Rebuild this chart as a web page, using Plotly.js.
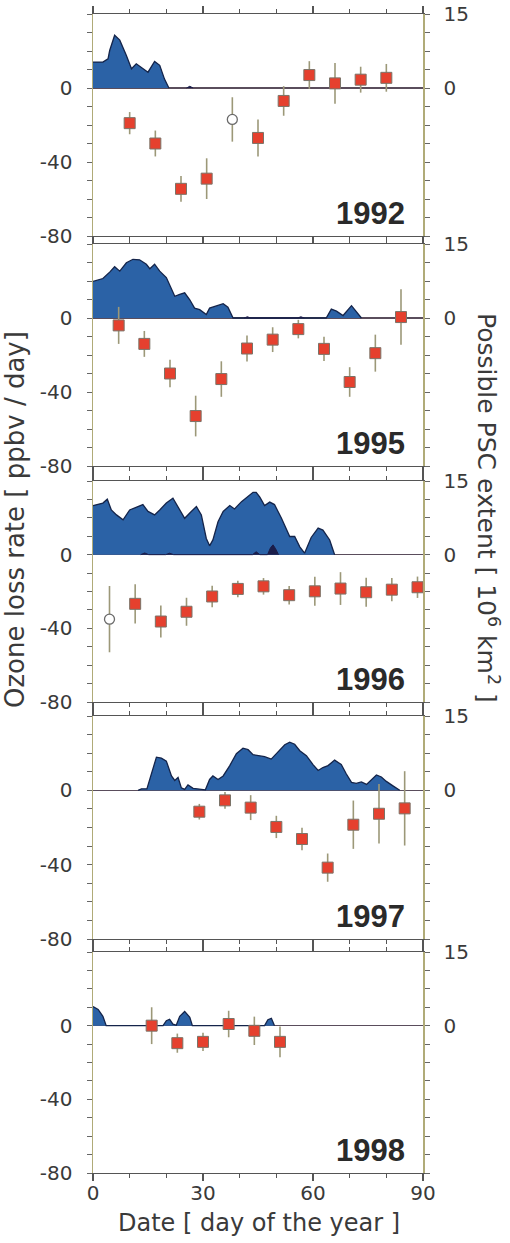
<!DOCTYPE html>
<html>
<head>
<meta charset="utf-8">
<script src="https://cdn.plot.ly/plotly-3.0.1.min.js"></script>
<style>html,body{margin:0;padding:0;background:#fff;}#chart{width:510px;height:1243px;}</style>
</head>
<body>
<div id="chart"></div>
<script>
// ---------- data ----------
const years = ["1992", "1995", "1996", "1997", "1998"];

// ozone loss rate [ppbv/day]: day, value, error, open-marker flags
const day1992 = [10, 17, 24, 31, 38, 45, 52, 59, 66, 73, 80];
const rate1992 = [-19, -30, -54.5, -49, -17, -27, -7, 7, 2.5, 4.5, 5.5];
const err1992 = [6, 7, 7, 11, 12, 10, 8, 7.5, 11, 7, 7.5];
const open1992 = [0, 0, 0, 0, 1, 0, 0, 0, 0, 0, 0];

const day1995 = [7, 14, 21, 28, 35, 42, 49, 56, 63, 70, 77, 84];
const rate1995 = [-4, -14, -30, -53, -33, -16.5, -11.7, -6, -16.7, -34.6, -19, 0.5];
const err1995 = [10, 7, 7.4, 11, 9.6, 7, 6.7, 5, 6.5, 8, 10, 15];
const open1995 = [0, 0, 0, 0, 0, 0, 0, 0, 0, 0, 0, 0];

const day1996 = [4.5, 11.5, 18.5, 25.5, 32.5, 39.5, 46.5, 53.5, 60.5, 67.5, 74.5, 81.5, 88.5];
const rate1996 = [-35, -26.7, -36.3, -31, -22.7, -18.6, -17.2, -22, -19.9, -18.4, -20.4, -19, -17.7];
const err1996 = [18, 10.7, 8.7, 7.6, 5.8, 4.5, 4.5, 5, 7.9, 8.9, 7.9, 6.3, 5.8];
const open1996 = [1, 0, 0, 0, 0, 0, 0, 0, 0, 0, 0, 0, 0];

const day1997 = [29, 36, 43, 50, 57, 64, 71, 78, 85];
const rate1997 = [-11.5, -5.4, -9.3, -19.7, -26.2, -41.6, -18.5, -12.6, -9.7];
const err1997 = [4.2, 4.5, 6.7, 6, 6, 7.6, 13, 16, 20];
const open1997 = [0, 0, 0, 0, 0, 0, 0, 0, 0];

const day1998 = [16, 23, 30, 37, 44, 51];
const rate1998 = [0, -9.5, -8.8, 0.9, -2.8, -8.8];
const err1998 = [10, 5.2, 5, 7.2, 7.7, 8.3];
const open1998 = [0, 0, 0, 0, 0, 0];

// possible PSC extent [10^6 km^2]
const pscDay1992 = [0, 2.7, 4.1, 4.55, 5.9, 7.3, 9.1, 10.5, 11.8, 13.2, 15, 16.8, 18.2, 19.5, 20.7];
const pscVal1992 = [5.25, 5.25, 5.9, 7.6, 10.7, 9.7, 6.6, 3.9, 4.9, 4.2, 3.2, 5.4, 4.6, 1.8, 0];

const pscDay1995 = [0, 2.7, 4.55, 5.9, 7.3, 9.1, 10.9, 12.7, 14.55, 15.5, 16.8, 18.2, 20, 22.3, 23.65, 25, 26.4, 27.7, 29.1, 30.9, 31.8, 33.65, 35.5, 36.8, 38.2,
  63.6, 65, 66.4, 68.2, 70.5, 71.8, 73.2];
const pscVal1995 = [7.4, 8.0, 9.3, 10.4, 9.5, 11.2, 11.9, 11.8, 10.9, 10.0, 10.9, 9.5, 8.2, 4.4, 4.8, 5.1, 3.7, 2.0, 1.7, 0.7, 2.0, 2.4, 2.9, 2.2, 0,
  0, 1.8, 1.4, 0.5, 2.5, 1.2, 0];

const pscDay1996 = [0, 2.7, 3.9, 5.0, 6.4, 8.2, 10.0, 11.8, 13.6, 15.0, 16.8, 18.2, 20.0, 21.8, 23.2, 25.0, 26.8, 28.2, 29.55, 30.9, 31.8, 32.7, 34.1, 35.5,
  37.3, 38.6, 40.5, 42.3, 43.65, 44.5, 45.5, 46.8, 48.2, 49.5, 51.4, 53.65, 55.0, 56.4, 57.7, 59.5, 61.4, 62.7, 64.55, 65.9];
const pscVal1996 = [10.0, 10.5, 11.3, 9.1, 8.1, 7.1, 9.1, 9.7, 10.2, 8.8, 8.1, 9.1, 10.5, 11.5, 9.8, 7.4, 8.8, 9.8, 8.1, 3.3, 1.8, 3.0, 6.7, 8.8,
  10.0, 9.3, 10.8, 11.9, 12.7, 12.7, 11.7, 10.0, 10.7, 10.2, 7.4, 3.7, 3.7, 1.6, 0.3, 3.5, 5.4, 5.0, 3.0, 0];

const pscDay1997 = [12.3, 13.2, 14.7, 15.9, 17.3, 18.65, 20.0, 21.4, 22.3, 23.2, 24.1, 25.0, 25.9, 27.3, 29.1, 30.65, 31.8, 32.7, 34.1, 35.5, 37.3, 39.1,
  40.9, 42.3, 43.65, 45.5, 46.8, 48.6, 50.5, 52.3, 53.65, 55.0, 56.4, 58.2, 60.0, 61.4, 62.7, 64.1, 65.9, 67.7, 69.1, 70.5, 71.8, 73.2, 74.6, 75.9,
  77.3, 78.65, 80.0, 81.8, 83.65];
const pscVal1997 = [0, 0.3, 0.3, 3.3, 6.7, 6.5, 5.9, 2.9, 2.0, 2.6, 0.5, 0.2, 1.1, 0.4, 0.3, 0.1, 2.2, 2.9, 2.2, 2.9, 5.0, 7.4,
  8.5, 8.2, 7.2, 7.0, 6.8, 6.3, 7.7, 9.2, 9.7, 9.3, 8.0, 7.0, 5.2, 4.0, 4.6, 5.0, 6.1, 5.2, 3.3, 1.6, 1.4, 1.7, 1.2, 2.2,
  3.1, 2.7, 1.8, 0.9, 0];

const pscDay1998 = [0, 1.4, 2.7, 3.6, 19.1, 20.0, 20.9, 21.8, 22.7, 23.65, 25.0, 26.4, 27.1, 46.8, 47.7, 48.65, 49.5];
const pscVal1998 = [3.9, 3.3, 1.9, 0, 0, 1.0, 1.3, 0.3, 0.1, 1.9, 2.9, 1.7, 0, 0, 1.2, 1.5, 0];

// small darker PSC patches
const darkDay1992 = [25.5, 26.4, 27.3];
const darkVal1992 = [0, 0.35, 0];
const darkDay1995 = [41.2, 42.1, 43.0, 55.8, 56.7, 57.6];
const darkVal1995 = [0, 0.25, 0, 0, 0.25, 0];
const darkDay1996 = [13.0, 14.1, 15.2, 19.8, 20.9, 22.0, 43.5, 44.5, 45.5, 47.6, 48.4, 49.1, 49.8, 50.6];
const darkVal1996 = [0, 0.35, 0, 0, 0.3, 0, 0, 0.6, 0, 0, 1.4, 2.0, 1.2, 0];
const darkDay1997 = [];
const darkVal1997 = [];
const darkDay1998 = [];
const darkVal1998 = [];

const xTickVals = [0, 30, 60, 90];
const xTickText = ["0", "30", "60", "90"];
const leftTickVals = [-80, -70, -60, -50, -40, -30, -20, -10, 0, 10, 20, 30, 40];
const leftTickText = ["-80", "", "", "", "-40", "", "", "", "0", "", "", "", ""];
const rightTickVals = [-30, -26.25, -22.5, -18.75, -15, -11.25, -7.5, -3.75, 0, 3.75, 7.5, 11.25, 15];
const rightTickText = ["", "", "", "", "", "", "", "", "0", "", "", "", "15"];

// ---------- assembly ----------
const panels = [
  {day: day1992, rate: rate1992, err: err1992, open: open1992, pd: pscDay1992, pv: pscVal1992, dd: darkDay1992, dv: darkVal1992},
  {day: day1995, rate: rate1995, err: err1995, open: open1995, pd: pscDay1995, pv: pscVal1995, dd: darkDay1995, dv: darkVal1995},
  {day: day1996, rate: rate1996, err: err1996, open: open1996, pd: pscDay1996, pv: pscVal1996, dd: darkDay1996, dv: darkVal1996},
  {day: day1997, rate: rate1997, err: err1997, open: open1997, pd: pscDay1997, pv: pscVal1997, dd: darkDay1997, dv: darkVal1997},
  {day: day1998, rate: rate1998, err: err1998, open: open1998, pd: pscDay1998, pv: pscVal1998, dd: darkDay1998, dv: darkVal1998}
];

const W = 510, H = 1243;
const L = 93, R = 87, T = 14, B = 70;
const plotH = H - T - B;
// panel pixel extents (top, bottom)
const panelPx = [[14, 236], [244, 466], [481, 702], [716, 939], [952, 1173]];

const spineCol = '#b0ab78';
const frameCol = '#555555';
const tickCol = '#666666';
const fillCol = '#2b62a6';
const edgeCol = '#14244a';
const darkCol = '#1b1d4a';

const data = [];
const layout = {
  width: W, height: H,
  margin: {l: L, r: R, t: T, b: B, pad: 0},
  showlegend: false,
  paper_bgcolor: '#ffffff',
  plot_bgcolor: '#ffffff',
  font: {family: 'DejaVu Sans, Arial, sans-serif', size: 20, color: '#3a3a3a'},
  annotations: []
};

panels.forEach((p, i) => {
  const k = i + 1;
  const xid = k === 1 ? 'x' : 'x' + k;
  const xname = k === 1 ? 'xaxis' : 'xaxis' + k;
  const rid = 2 * i + 1, lid = 2 * i + 2;
  const rY = rid === 1 ? 'y' : 'y' + rid;
  const lY = 'y' + lid;
  const rName = rid === 1 ? 'yaxis' : 'yaxis' + rid;
  const lName = 'yaxis' + lid;
  const top = panelPx[i][0], bot = panelPx[i][1];
  const dom = [(H - B - bot) / plotH, (H - B - top) / plotH];

  layout[xname] = {
    domain: [0, 1], range: [0, 90], anchor: rY,
    tickmode: 'array', tickvals: xTickVals, ticktext: xTickText,
    ticks: 'outside', ticklen: 7, tickwidth: 1.2, tickcolor: frameCol,
    minor: {tickmode: 'linear', tick0: 0, dtick: 10, ticks: 'outside', ticklen: 4, tickwidth: 1, tickcolor: frameCol},
    showline: true, linecolor: frameCol, linewidth: 1.3, mirror: 'ticks',
    showgrid: false, zeroline: false, fixedrange: true,
    showticklabels: i === 4,
    ticklabelstandoff: -5,
    tickfont: {size: 20, color: '#3a3a3a'}
  };
  layout[rName] = {
    domain: dom, range: [-30, 15], anchor: xid, side: 'right',
    tickmode: 'array', tickvals: rightTickVals, ticktext: rightTickText,
    ticks: 'outside', ticklen: 5, tickwidth: 1, tickcolor: tickCol,
    ticklabelstandoff: 10,
    showline: true, linecolor: spineCol, linewidth: 1.5,
    showgrid: false, zeroline: true, zerolinecolor: '#5a4d5c', zerolinewidth: 1.6,
    tickfont: {size: 20, color: '#3a3a3a'}, fixedrange: true
  };
  layout[lName] = {
    overlaying: rY, range: [-80, 40], anchor: xid, side: 'left',
    tickmode: 'array', tickvals: leftTickVals, ticktext: leftTickText,
    ticks: 'outside', ticklen: 5, tickwidth: 1, tickcolor: tickCol,
    ticklabelstandoff: 10,
    showline: true, linecolor: spineCol, linewidth: 1.5,
    showgrid: false, zeroline: false,
    tickfont: {size: 20, color: '#3a3a3a'}, fixedrange: true
  };

  // PSC extent (right axis)
  data.push({
    type: 'scatter', mode: 'lines', x: p.pd, y: p.pv, xaxis: xid, yaxis: rY,
    fill: 'tozeroy', fillcolor: fillCol,
    line: {color: edgeCol, width: 1.3, shape: 'linear'},
    hoverinfo: 'skip'
  });
  if (p.dd.length) {
    data.push({
      type: 'scatter', mode: 'lines', x: p.dd, y: p.dv, xaxis: xid, yaxis: rY,
      fill: 'tozeroy', fillcolor: darkCol,
      line: {color: darkCol, width: 1, shape: 'linear'},
      hoverinfo: 'skip'
    });
  }

  // ozone loss rate (left axis)
  const fx = [], fy = [], fe = [], ox = [], oy = [], oe = [];
  p.day.forEach((d, j) => {
    if (p.open[j]) { ox.push(d); oy.push(p.rate[j]); oe.push(p.err[j]); }
    else { fx.push(d); fy.push(p.rate[j]); fe.push(p.err[j]); }
  });
  data.push({
    type: 'scatter', mode: 'markers', x: fx, y: fy, xaxis: xid, yaxis: lY,
    error_y: {type: 'data', array: fe, visible: true, color: '#9c9878', thickness: 1.6, width: 0},
    marker: {symbol: 'square', size: 11, color: '#e5402e', line: {color: '#7b7368', width: 1}},
    hoverinfo: 'skip'
  });
  if (ox.length) {
    data.push({
      type: 'scatter', mode: 'markers', x: ox, y: oy, xaxis: xid, yaxis: lY,
      error_y: {type: 'data', array: oe, visible: true, color: '#9c9878', thickness: 1.6, width: 0},
      marker: {symbol: 'circle', size: 10, color: '#ffffff', line: {color: '#6a6a6a', width: 1.3}},
      hoverinfo: 'skip'
    });
  }

  layout.annotations.push({
    xref: xid, yref: lY, x: 85.5, y: -68, xanchor: 'right', yanchor: 'middle',
    text: '<b>' + years[i] + '</b>', showarrow: false,
    font: {family: 'Liberation Sans, Arial, sans-serif', size: 31, color: '#2a2a2a'}
  });
});

// axis titles
const px2x = px => (px - L) / (W - L - R);
const px2y = py => (H - B - py) / plotH;
layout.annotations.push({
  xref: 'paper', yref: 'paper', x: px2x(15), y: px2y(520), xanchor: 'center', yanchor: 'middle',
  text: 'Ozone loss rate [ ppbv / day]', textangle: -90, showarrow: false,
  font: {size: 26, color: '#3a3a3a'}
});
layout.annotations.push({
  xref: 'paper', yref: 'paper', x: px2x(488), y: px2y(508), xanchor: 'center', yanchor: 'middle',
  text: 'Possible PSC extent [ 10<sup>6</sup> km<sup>2</sup> ]', textangle: 90, showarrow: false,
  font: {size: 25, color: '#3a3a3a'}
});
layout.annotations.push({
  xref: 'paper', yref: 'paper', x: px2x(259), y: px2y(1223), xanchor: 'center', yanchor: 'middle',
  text: 'Date [ day of the year ]', showarrow: false,
  font: {size: 24, color: '#3a3a3a'}
});

Plotly.newPlot('chart', data, layout, {staticPlot: true, displayModeBar: false});
</script>
</body>
</html>
